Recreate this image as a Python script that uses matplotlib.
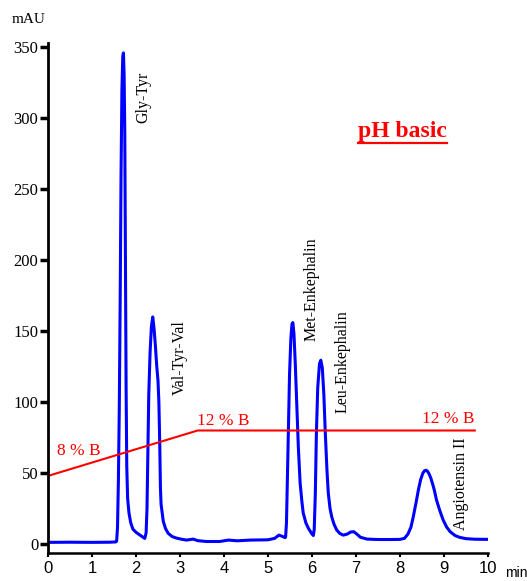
import matplotlib
matplotlib.use('Agg')
import matplotlib.pyplot as plt
from matplotlib.lines import Line2D

# хроматограмма: время (мин) и сигнал (mAU)
time_min = [0.0, 0.5, 1.0, 1.4, 1.54,
            1.56, 1.58, 1.60, 1.62, 1.64, 1.66, 1.68, 1.70, 1.715, 1.73, 1.745, 1.76, 1.775,
            1.79, 1.81, 1.84, 1.88, 1.93, 2.0, 2.08, 2.15, 2.20,
            2.23, 2.25, 2.27, 2.29, 2.32, 2.35, 2.38, 2.41, 2.44, 2.47, 2.50, 2.52, 2.54,
            2.555, 2.57, 2.62, 2.67, 2.73, 2.82, 2.92, 3.05, 3.15, 3.3, 3.4, 3.6, 3.9,
            4.1, 4.3, 4.6, 5.0, 5.15, 5.25, 5.32, 5.39,
            5.40, 5.42, 5.44, 5.46, 5.49, 5.52, 5.545, 5.565, 5.59, 5.62, 5.65, 5.69, 5.73,
            5.77, 5.80, 5.86, 5.92, 5.99, 6.03,
            6.05, 6.075, 6.10, 6.13, 6.17, 6.20, 6.235, 6.27, 6.30, 6.34, 6.37, 6.41, 6.45,
            6.50, 6.56, 6.63, 6.71, 6.8, 6.88, 6.95, 7.02, 7.1, 7.25, 7.5, 7.8, 8.0,
            8.1, 8.18, 8.25, 8.30, 8.37, 8.42, 8.47, 8.52, 8.56, 8.59, 8.62, 8.66, 8.70,
            8.74, 8.78, 8.83, 8.90, 8.98, 9.06, 9.14, 9.25, 9.36, 9.5, 9.7, 10.0]
signal_mau = [1.2, 1.3, 1.2, 1.3, 1.5,
              2, 12, 45, 95, 170, 260, 320, 344, 346, 330, 290, 200, 110,
              55, 32, 22, 15, 10.5, 8.3, 6.5, 5, 4,
              8, 25, 65, 105, 135, 153, 160, 152, 140, 126, 115, 100, 70,
              40, 28, 16, 11, 7.6, 5.3, 4.2, 3.3, 2.8, 3.5, 2.4, 1.8, 1.8,
              2.8, 2.3, 2.8, 3.0, 4.0, 6.3, 5.5, 4.5,
              5, 15, 45, 78, 120, 145, 155, 156, 148, 127, 101, 68, 43,
              30, 22, 15, 11, 7.5, 6,
              10, 35, 78, 110, 127, 129.5, 124, 105, 80, 52, 36, 25, 19,
              14, 10, 7.5, 6.3, 7, 8.5, 8.7, 7, 4.8, 3.5, 3.2, 3.2, 3.3,
              4, 7, 12, 19, 30, 38.5, 45.5, 50, 51.7, 52, 51.5, 49.5, 46.5,
              42.5, 38, 31, 24, 17, 12, 8.7, 6, 4.7, 3.8, 3.4, 3.3]

# градиент (% B), в единицах оси mAU
grad_t = [0, 3.4, 9.7]
grad_v = [48, 80, 80]
grad_labels = ['8 % B', '12 % B', '12 % B']

peak_names = ['Gly-Tyr', 'Val-Tyr-Val', 'Met-Enkephalin', 'Leu-Enkephalin', 'Angiotensin II']

x_ticks = list(range(0, 11))
y_ticks = list(range(0, 351, 50))

serif = 'Liberation Serif'
sans = 'Liberation Sans'

fig = plt.figure(figsize=(5.27, 5.81), dpi=100)
ax = fig.add_axes([48 / 527, 28 / 581, 440 / 527, 510 / 581])

ax.plot(time_min, signal_mau, color='#0000ff', lw=2.2, solid_joinstyle='round')
ax.plot(grad_t, grad_v, color='#ff0000', lw=1.5)

ax.set_xlim(0, 10)
ax.set_ylim(-6.3, 353)
for s in ['top', 'right']:
    ax.spines[s].set_visible(False)
ax.spines['left'].set_linewidth(2)
ax.spines['bottom'].set_linewidth(1.8)

ax.set_xticks(x_ticks)
ax.set_yticks(y_ticks)
ax.tick_params(axis='y', length=6, width=2.5, pad=1, labelsize=12)
ax.tick_params(axis='x', length=3, width=1.5, pad=3, labelsize=12)
for lbl in ax.get_yticklabels():
    lbl.set_fontfamily(serif)
for lbl in ax.get_xticklabels():
    lbl.set_fontfamily(sans)

# подписи пиков
label_pos = [(1.98, 333), (2.82, 158), (5.82, 216), (6.52, 165), (9.2, 75)]
for name, (x, y) in zip(peak_names, label_pos):
    ax.text(x, y, name, rotation=90, ha='left', va='top', fontsize=11.5, family=serif)

# подписи градиента
grad_pos = [(0.2, 62.8), (3.38, 84), (8.5, 85.3)]
for txt, (x, y) in zip(grad_labels, grad_pos):
    ax.text(x, y, txt, color='#ff0000', fontsize=12.5, family=serif, va='baseline')

fig.text(12 / 527, (581 - 23) / 581, 'mAU', fontsize=11, family=serif, va='baseline')
fig.text(505 / 527, (581 - 577) / 581, 'min', fontsize=10, family=sans, va='baseline')

title = fig.text(358 / 527, (581 - 137) / 581, 'pH basic', color='#ff0000', fontsize=17,
                 fontweight='bold', family=serif, va='baseline')
fig.canvas.draw()
bb = title.get_window_extent().transformed(fig.transFigure.inverted())
uy = (581 - 143) / 581
fig.add_artist(Line2D([bb.x0, bb.x1], [uy, uy], color='#ff0000', lw=1.6,
                      transform=fig.transFigure))

fig.savefig('out.png', dpi=100)
